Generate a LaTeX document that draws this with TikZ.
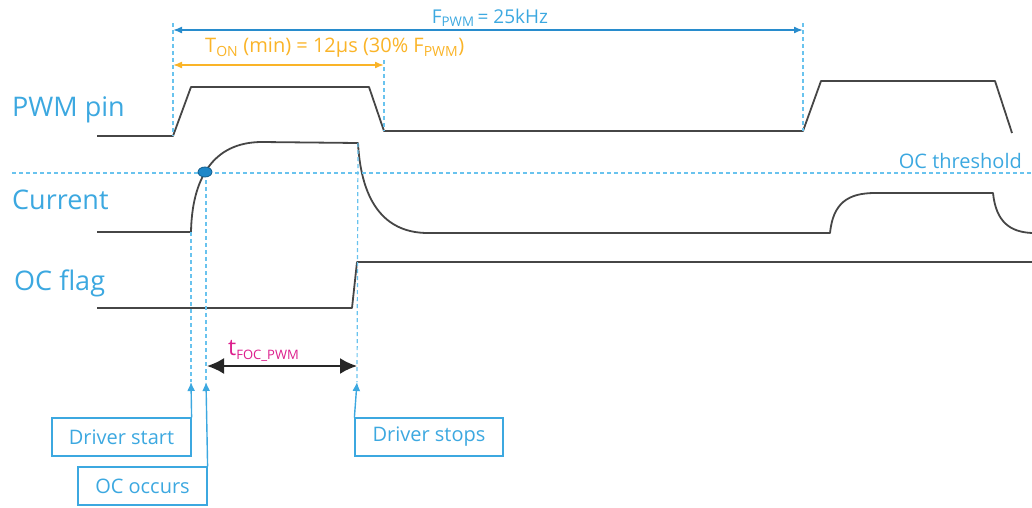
\documentclass[tikz,border=0pt]{standalone}
\usepackage{fontspec}
\setmainfont{Open Sans}
\usetikzlibrary{arrows.meta,shapes.geometric,calc}
\definecolor{st_blue}{RGB}{60, 168, 224}
\definecolor{dash_blue}{RGB}{105, 195, 238}
\definecolor{arr_blue}{RGB}{40, 140, 205}
\definecolor{ton_orange}{RGB}{250, 180, 40}
\definecolor{foc_pink}{RGB}{220, 30, 140}
\definecolor{wave_grey}{RGB}{70, 70, 70}
\definecolor{dot_blue}{RGB}{30, 135, 200}
\tikzstyle{none}=[inner sep=0pt]
\tikzstyle{lbl}=[anchor=west,inner sep=0pt,text=st_blue,
  font=\fontsize{27}{31}\selectfont]
\tikzstyle{note}=[inner sep=0pt,font=\fontsize{20}{24}\selectfont]
\tikzstyle{box}=[rectangle,draw=st_blue,line width=1.2pt,text=st_blue,
  inner sep=0pt,font=\fontsize{20}{24}\selectfont]
\tikzstyle{wave}=[draw=wave_grey,line width=1.8pt,line join=round]
\tikzstyle{guide}=[draw=dash_blue,line width=1.2pt,dash pattern=on 4pt off 3pt]
\tikzstyle{ocdot}=[ellipse,fill=dot_blue,draw=dot_blue!70!black,line width=0.8pt,
  inner sep=0pt,minimum width=14pt,minimum height=10pt]
\tikzstyle{pointer}=[draw=st_blue,line width=1.4pt,-{Latex[length=9pt,width=8pt]}]

\begin{document}
\begin{tikzpicture}[x=1pt,y=-1pt]
            \useasboundingbox (0,0) rectangle (1032,507);
            % signal names
            \node [style=lbl] (0) at (12, 110) {PWM pin};
            \node [style=lbl] (1) at (12, 200) {Current};
            \node [style=lbl] (2) at (14, 283) {OC flag};
            \node [style=note, text=st_blue, anchor=east] (3) at (1022, 161) {OC threshold};
            % PWM pin
            \node [style=none] (10) at (97, 136) {};
            \node [style=none] (11) at (173, 136) {};
            \node [style=none] (12) at (191, 87) {};
            \node [style=none] (13) at (369, 87) {};
            \node [style=none] (14) at (384, 131) {};
            \node [style=none] (15) at (803, 131) {};
            \node [style=none] (16) at (821, 81) {};
            \node [style=none] (17) at (995, 81) {};
            \node [style=none] (18) at (1012, 133) {};
            \draw [style=wave] (10.center) -- (11.center) -- (12.center) -- (13.center)
              -- (14.center) -- (15.center) -- (16.center) -- (17.center) -- (18.center);
            % Current
            \node [style=none] (20) at (97, 232) {};
            \node [style=none] (21) at (191, 232) {};
            \node [style=none] (23) at (262, 142) {};
            \node [style=none] (24) at (358, 143) {};
            \node [style=none] (25) at (428, 233) {};
            \node [style=none] (26) at (830, 233) {};
            \node [style=none] (27) at (875, 193) {};
            \node [style=none] (28) at (993, 193) {};
            \node [style=none] (29) at (1032, 233) {};
            \draw [style=wave] (20.center) -- (21.center)
              .. controls (192, 180) and (212, 142) .. (23.center) -- (24.center)
              .. controls (362, 215) and (395, 233) .. (25.center) -- (26.center)
              .. controls (833, 203) and (848, 193) .. (27.center) -- (28.center)
              .. controls (996, 222) and (1010, 232) .. (29.center);
            % OC flag
            \node [style=none] (30) at (97, 308) {};
            \node [style=none] (31) at (352, 308) {};
            \node [style=none] (32) at (357, 262) {};
            \node [style=none] (33) at (1032, 262) {};
            \draw [style=wave] (30.center) -- (31.center) -- (32.center) -- (33.center);
            % threshold
            \node [style=none] (40) at (12, 173) {};
            \node [style=none] (41) at (1032, 173) {};
            \draw [style=guide] (40.center) -- (41.center);
            % guides
            \node [style=none] (50) at (173, 23) {};
            \node [style=none] (51) at (803, 23) {};
            \node [style=none] (52) at (384, 60) {};
            \node [style=none] (53) at (191, 382) {};
            \node [style=none] (54) at (206, 382) {};
            \node [style=none] (55) at (357, 382) {};
            \node [style=none] (56) at (206, 173) {};
            \draw [style=guide] (50.center) -- (11.center);
            \draw [style=guide] (51.center) -- (15.center);
            \draw [style=guide] (52.center) -- (14.center);
            \draw [style=guide] (21.center) -- (53.center);
            \draw [style=guide] (56.center) -- (54.center);
            \draw [style=guide] (24.center) -- (55.center);
            \node [style=ocdot] (42) at (205, 172) {};
            % F_PWM and T_ON
            \node [style=none] (60) at (173, 30) {};
            \node [style=none] (61) at (803, 30) {};
            \draw [draw=arr_blue, line width=1.6pt, {Latex[length=9pt,width=7pt]}-{Latex[length=9pt,width=7pt]}]
              (60.center) -- (61.center);
            \node [style=note, text=st_blue, font=\fontsize{19}{23}\selectfont] (62) at (490, 18) {F\textsubscript{PWM}\,= 25kHz};
            \node [style=none] (63) at (173, 65) {};
            \node [style=none] (64) at (384, 65) {};
            \draw [draw=ton_orange, line width=1.6pt, {Latex[length=9pt,width=7pt]}-{Latex[length=9pt,width=7pt]}]
              (63.center) -- (64.center);
            \node [style=note, text=ton_orange, anchor=west] (65) at (205, 48)
              {T\textsubscript{ON} (min) = 12µs (30\% F\textsubscript{PWM})};
            % t_FOC_PWM
            \node [style=none] (66) at (207, 366) {};
            \node [style=none] (67) at (357, 366) {};
            \draw [draw=black!85, line width=2pt, {Latex[length=17pt,width=16pt]}-{Latex[length=17pt,width=16pt]}]
              (66.center) -- (67.center);
            \node [style=none, text=foc_pink, anchor=base west] (68) at (228, 355)
              {{\fontsize{23}{26}\selectfont t}{\fontsize{13}{15}\selectfont\raisebox{-4pt}{FOC\_PWM}}};
            % event boxes
            \node [style=box, minimum width=139pt, minimum height=38pt] (70) at (121.5, 437) {Driver start};
            \node [style=box, minimum width=129pt, minimum height=38pt] (71) at (142.5, 486) {OC occurs};
            \node [style=box, minimum width=148pt, minimum height=38pt] (72) at (429, 437) {Driver stops};
            \draw [style=pointer] (70.north east) -- (53.center);
            \draw [style=pointer] (71.north east) -- (54.center);
            \draw [style=pointer] (72.north west) -- (55.center);
    \end{tikzpicture}
\end{document}
